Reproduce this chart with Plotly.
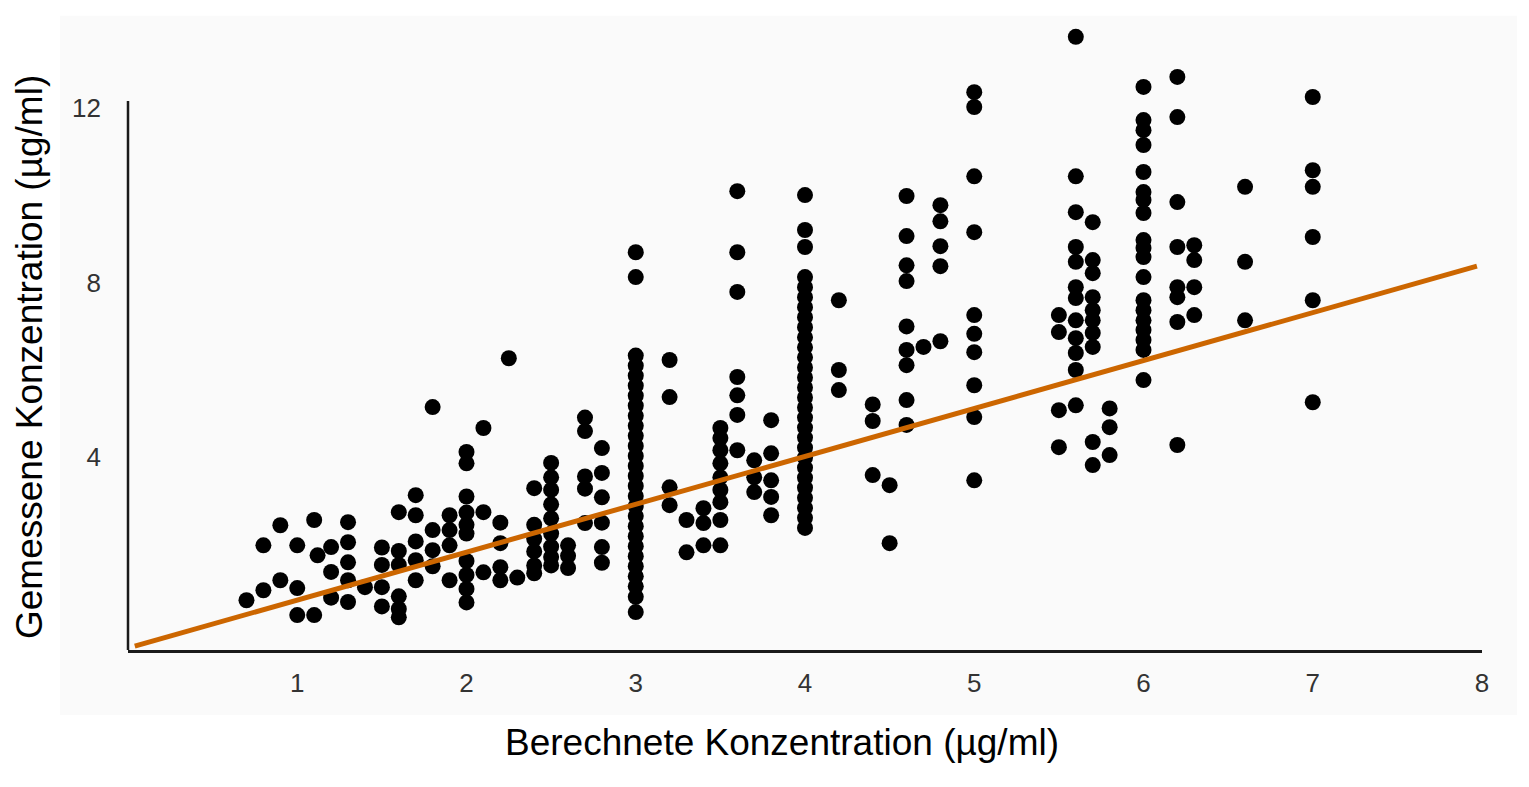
import plotly.graph_objects as go

# Calculated concentration levels (x) and the measured values found at each level (y)
levels = [0.7, 0.8, 0.9, 1.0, 1.1, 1.12, 1.2, 1.3, 1.4, 1.5, 1.6, 1.7, 1.8, 1.9,
          2.0, 2.1, 2.2, 2.25, 2.3, 2.4, 2.5, 2.6, 2.7, 2.8, 3.0, 3.2, 3.3, 3.4,
          3.5, 3.6, 3.7, 3.8, 4.0, 4.2, 4.4, 4.5, 4.6, 4.7, 4.8, 5.0, 5.5, 5.6,
          5.7, 5.8, 6.0, 6.2, 6.3, 6.6, 7.0]

measured = [
    [0.72],
    [1.98, 0.95],
    [2.44, 1.18],
    [1.98, 1.00, 0.38],
    [2.56, 0.38],
    [1.75],
    [1.94, 1.37, 0.78],
    [2.51, 2.05, 1.59, 1.18, 0.68],
    [1.02],
    [1.93, 1.53, 1.02, 0.58],
    [2.74, 1.85, 1.53, 0.81, 0.52, 0.33],
    [3.13, 2.67, 2.07, 1.64, 1.18],
    [5.15, 2.33, 1.87, 1.50],
    [2.67, 2.33, 1.98, 1.18],
    [4.12, 3.86, 3.10, 2.73, 2.45, 2.25, 1.62, 1.30, 0.98, 0.67],
    [4.67, 2.74, 1.36],
    [2.50, 2.03, 1.48, 1.18],
    [6.27],
    [1.24],
    [3.29, 2.45, 2.13, 1.84, 1.52, 1.34],
    [3.87, 3.54, 3.25, 2.92, 2.60, 2.25, 1.95, 1.71, 1.52],
    [1.98, 1.74, 1.46],
    [4.91, 4.60, 3.56, 3.28, 2.49],
    [4.21, 3.64, 3.08, 2.50, 1.94, 1.58],
    [8.70, 8.13, 6.33, 6.10, 5.87, 5.64, 5.41, 5.18, 4.95, 4.72, 4.49, 4.26,
     4.03, 3.80, 3.57, 3.34, 3.11, 2.88, 2.65, 2.42, 2.19, 1.96, 1.73, 1.50,
     1.27, 1.04, 0.80, 0.45],
    [6.23, 5.38, 3.31, 2.90],
    [2.56, 1.82],
    [2.83, 2.49, 1.98],
    [4.67, 4.44, 4.16, 3.86, 3.54, 3.25, 2.97, 2.56, 1.98],
    [10.10, 8.70, 7.79, 5.84, 5.42, 4.97, 4.16],
    [3.93, 3.54, 3.20],
    [4.85, 4.09, 3.47, 3.09, 2.67],
    [10.01, 9.21, 8.82, 8.13, 7.90, 7.67, 7.44, 7.21, 6.98, 6.75, 6.52, 6.29,
     6.06, 5.83, 5.60, 5.37, 5.14, 4.91, 4.68, 4.45, 4.22, 3.99, 3.76, 3.53,
     3.30, 3.07, 2.84, 2.61, 2.38],
    [7.60, 6.00, 5.54],
    [5.21, 4.83, 3.59],
    [3.36, 2.03],
    [9.99, 9.07, 8.40, 8.04, 7.00, 6.46, 6.11, 5.31, 4.74],
    [6.53],
    [9.78, 9.41, 8.84, 8.38, 6.66],
    [12.37, 12.03, 10.44, 9.16, 7.26, 6.83, 6.41, 5.65, 4.92, 3.47],
    [7.26, 6.87, 5.08, 4.23],
    [13.64, 10.44, 9.62, 8.82, 8.48, 7.90, 7.65, 7.14, 6.73, 6.39, 6.00, 5.19],
    [9.39, 8.52, 8.22, 7.67, 7.37, 7.14, 6.85, 6.53, 4.35, 3.82],
    [5.12, 4.69, 4.05],
    [12.49, 11.73, 11.50, 11.16, 10.54, 10.08, 9.90, 9.60, 8.98, 8.80, 8.59,
     8.13, 7.60, 7.37, 7.14, 6.92, 6.69, 6.46, 5.77],
    [12.72, 11.80, 9.85, 8.82, 7.90, 7.67, 7.10, 4.28],
    [8.86, 8.52, 7.90, 7.26],
    [10.20, 8.48, 7.14],
    [12.26, 10.58, 10.20, 9.05, 7.60, 5.26],
]

# Regression line end points
fit_x = [0.04, 7.97]
fit_y = [-0.33, 8.38]

x_ticks = [1, 2, 3, 4, 5, 6, 7, 8]
y_ticks = [4, 8, 12]
y_axis_top = 12.17

x_title = "Berechnete Konzentration (µg/ml)"
y_title = "Gemessene Konzentration (µg/ml)"

px_list, py_list = [], []
for lvl, ys in zip(levels, measured):
    for v in ys:
        px_list.append(lvl)
        py_list.append(v)

fig = go.Figure()
fig.add_trace(go.Scatter(
    x=px_list, y=py_list, mode="markers",
    marker=dict(size=16, color="#000000", line=dict(width=0)),
    hoverinfo="x+y", showlegend=False,
))
fig.add_trace(go.Scatter(
    x=fit_x, y=fit_y, mode="lines",
    line=dict(color="#CC6600", width=5),
    showlegend=False,
))

L, R, T, B = 128, 47, 15, 137
W, H = 1529, 787
pw, ph = W - L - R, H - T - B
Y0, Y1 = -0.42, 14.14

def paper_x(px):
    return (px - L) / pw

def paper_y(py):
    return (H - B - py) / ph

# light panel behind the chart
fig.add_shape(type="rect", xref="paper", yref="paper",
              x0=paper_x(60), x1=paper_x(1517), y0=paper_y(715), y1=0.999,
              fillcolor="#fafafa", line=dict(width=0), layer="below")
# y-axis line (stops at the top tick level)
fig.add_shape(type="line", xref="paper", yref="paper",
              x0=0, x1=0, y0=0, y1=(y_axis_top - Y0) / (Y1 - Y0),
              line=dict(color="#1a1a1a", width=2.5), layer="below")

fig.add_annotation(text=x_title, xref="paper", yref="paper",
                   x=paper_x(782), y=paper_y(742), showarrow=False,
                   xanchor="center", yanchor="middle",
                   font=dict(family="Liberation Sans, Arial, sans-serif", size=37, color="#000"))
fig.add_annotation(text=y_title, xref="paper", yref="paper",
                   x=paper_x(29), y=paper_y(357), showarrow=False, textangle=-90,
                   xanchor="center", yanchor="middle",
                   font=dict(family="Liberation Sans, Arial, sans-serif", size=37, color="#000"))

tick_font = dict(family="Liberation Sans, Arial, sans-serif", size=26, color="#333333")

fig.update_layout(
    width=W, height=H,
    margin=dict(l=L, r=R, t=T, b=B, pad=0),
    paper_bgcolor="#ffffff", plot_bgcolor="rgba(0,0,0,0)",
    showlegend=False,
    xaxis=dict(range=[0, 8], tickvals=x_ticks, ticktext=[str(t) for t in x_ticks],
               showgrid=False, zeroline=False, showline=True, linecolor="#1a1a1a",
               linewidth=3, ticks="", ticklabelstandoff=8, tickfont=tick_font),
    yaxis=dict(range=[Y0, Y1], tickvals=y_ticks, ticktext=[str(t) for t in y_ticks],
               showgrid=False, zeroline=False, showline=False,
               ticks="", ticklabelstandoff=26, tickfont=tick_font),
)

fig.write_html("out.html")
